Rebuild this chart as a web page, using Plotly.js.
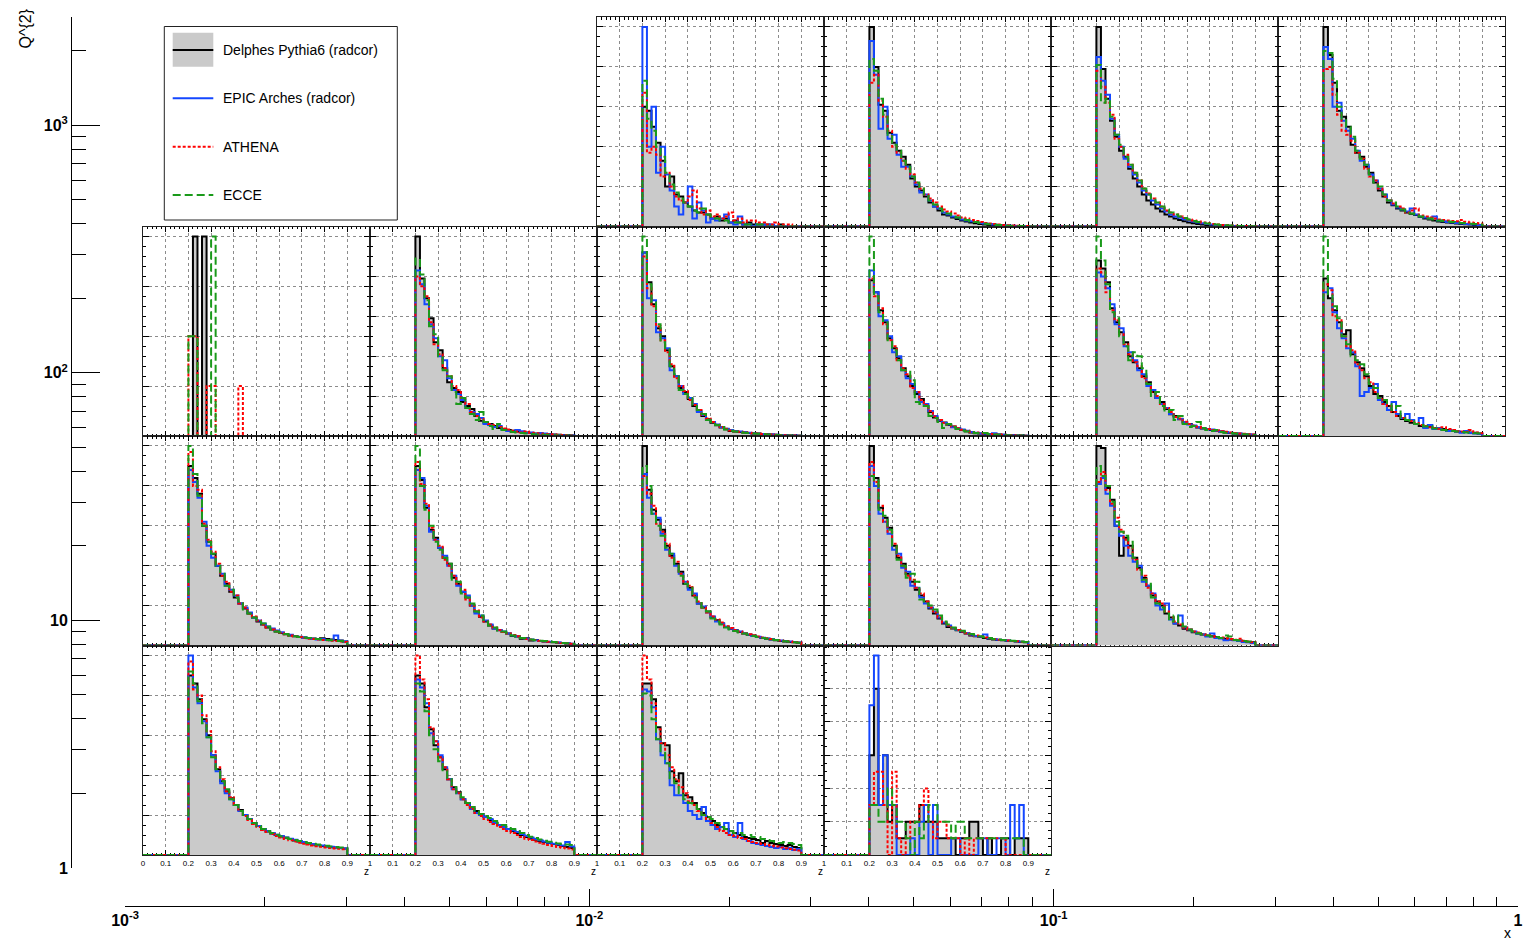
<!DOCTYPE html>
<html><head><meta charset="utf-8">
<script src="https://cdn.plot.ly/plotly-3.0.1.min.js"></script>
<style>html,body{margin:0;padding:0;background:#fff}#chart{width:1525px;height:941px}</style>
</head><body><div id="chart"></div>
<script>
// ---------------- DATA ----------------
// z histogram binning: 50 bins of 0.02 over [0,1]; the values below fill the bins starting at z = 0.20
const zBinWidth = 0.02;
const zFirstBinLow = 0.20;
const zNBins = 50;

// outer axes
const outerXTicks = [0.001, 0.01, 0.1, 1];
const outerXTickText = ['10<sup>-3</sup>', '10<sup>-2</sup>', '10<sup>-1</sup>', '1'];
const outerYTicks = [1, 10, 100, 1000];
const outerYTickText = ['1', '10', '10<sup>2</sup>', '10<sup>3</sup>'];
const seriesNames = ['Delphes Pythia6 (radcor)', 'EPIC Arches (radcor)', 'ATHENA', 'ECCE'];

// ---- Row 1 (highest Q2) ----
const r1c3_delphes = [60,58,50,42,33,20,25,16,15,12,10,8,7,7,6,4,5,3,4,2,3,2,1,2,1,1,1,1,0,0,1,0,0,0,0];
const r1c3_epic    = [100,40,60,27,40,26,18,10,6,12,20,4,12,8,2,4,3,4,6,2,1,5,1,1,0,1,1,0,1,0,0,0,0,0,0];
const r1c3_athena  = [67,37,40,36,25,27,20,15,13,12,15,18,9,6,8,5,6,4,5,7,3,4,2,3,3,2,2,1,1,2,1,1,1,0,0];
const r1c3_ecce    = [73,54,48,40,35,27,21,17,14,12,10,8,7,9,6,5,4,3,3,2,2,2,1,1,1,1,1,0,0,0,0,0,0,0,0];

const r1c4_delphes = [100,80,61,58,47,42,38,35,31,24,20,18,15,12,10,8,6,5.5,4.5,3.8,3,2.5,2,1.6,1.3,1,0.8,0.6,0.5,0.4,0.3,0.2,0.2,0.1,0];
const r1c4_epic    = [93,76,49,60,44,46,36,30,30,25,21,17,16,13,10,9,7,6,5,4.5,3.5,3,2.6,2.2,1.8,1.5,1.2,1,0.8,0.6,0.5,0.4,0.3,0.2,0.1];
const r1c4_athena  = [72,76,63,55,48,40,37,33,29,26,22,19,16,14,12,10,8.5,7.5,6.5,5.5,4.5,4,3.2,2.8,2.3,1.8,1.5,1.2,1,0.8,0.6,0.5,0.4,0.3,0.2];
const r1c4_ecce    = [84,78,64,56,46,41,38,33,30,25,22,19,16,13,11,9,7.5,6.5,5.5,4.5,3.8,3.2,2.6,2.2,1.8,1.4,1.1,0.9,0.7,0.5,0.4,0.3,0.2,0.2,0.1];

const r1c5_delphes = [100,79,64,53,45,38,35,29,24,20,16,13,11,9,7.5,6,5,4,3.3,2.6,2,1.6,1.2,1,0.8,0.6,0.5,0.4,0.3,0.2,0.1,0.1,0,0,0];
const r1c5_epic    = [85,73,66,54,46,40,34,30,26,22,18,16,13,11,9,7.5,6,5,4.4,3.6,3,2.5,2,1.6,1.3,1,0.8,0.6,0.5,0.4,0.3,0.2,0.1,0.1,0];
const r1c5_athena  = [78,70,62,56,44,40,36,31,27,23,19,16.5,14,12,10,8,7,6,5,4.2,3.5,3,2.5,2,1.6,1.3,1,0.8,0.6,0.5,0.4,0.3,0.2,0.1,0.1];
const r1c5_ecce    = [81,62,64,55,46,41,35,31,27,23,19,16,14,12,10,8.5,7,6,5,4.2,3.5,2.8,2.3,1.9,1.5,1.2,1,0.8,0.6,0.5,0.4,0.3,0.2,0.1,0.1];

const r1c6_delphes = [100,86,72,58,55,50,41,37,35,30,27,22,18,15,12,10.6,9,8,7,6.4,5.8,4.7,4,3.5,3,2.5,2.2,2,1.8,1.5,1.3,1.1,1,0.8,0.7];
const r1c6_epic    = [90,84,60,62,53,48,44,38,33,31,26,23,19,16,13,11,9.5,8.5,7.5,9,6,5,4.5,4,5,3,2.6,2.3,2,1.8,1.5,1.3,1.1,1,0.8];
const r1c6_athena  = [79,80,66,56,48,46,43,37,34,29,25,23,19,15,13,11.5,10,9,7,8,9,5.5,5,4.5,4,3.5,3.2,3,2.8,2.6,3.2,2.4,2,1.8,1.5];
const r1c6_ecce    = [88,87,74,60,54,50,45,38,34,31,26,22,20,16,13,12,10,8.5,7.5,6.5,5.6,5,4.6,4,3.5,3,2.7,2.5,2.2,2,1.8,1.6,1.4,1.2,1];

// ---- Row 2 ----
const r2c1_delphes = [0,4,0,4,0,0,0,0,0,0,0,0,0,0,0,0,0,0,0,0,0,0,0,0,0,0,0,0,0,0,0,0,0,0,0];
const r2c1_epic    = [0,0,0,0,0,0,0,0,0,0,0,0,0,0,0,0,0,0,0,0,0,0,0,0,0,0,0,0,0,0,0,0,0,0,0];
const r2c1_athena  = [2,2,0,0,1,1,0,0,0,0,0,1,0,0,0,0,0,0,0,0,0,0,0,0,0,0,0,0,0,0,0,0,0,0,0];
const r2c1_ecce    = [2,2,0,0,0,4,0,0,0,0,0,0,0,0,0,0,0,0,0,0,0,0,0,0,0,0,0,0,0,0,0,0,0,0,0];

const r2c2_delphes = [100,79,69,59,47,43,34,27,24,22,17,15,13.5,10,7.6,6.7,6,5,4,3.4,3,2.6,2.2,2,1.8,1.5,1.3,1.2,1,0.9,0.8,0.6,0.5,0.4,0.3];
const r2c2_epic    = [83,76,66,56,49,40,38,29,23,21,18,14,12,11,9,6,5.5,4.5,5,3,2.5,2,3,2.4,1.5,1.8,1,1.5,1.2,0.8,0.6,0.5,0.4,0.3,0.2];
const r2c2_athena  = [80,75,70,57,46,41,34,30,25,23,19,16,12,10,8.5,7,6,5.5,4.5,3.8,3.2,2.6,2.2,1.8,2.2,1.6,1.4,1.2,1,0.9,0.8,0.6,0.5,0.4,0.3];
const r2c2_ecce    = [89,81,68,55,51,40,33,30,22,16,19,14,11,8,12,7,5,3.5,6,3,2.5,2,1.8,1.5,1.3,1,0.8,0.7,0.6,0.5,0.4,0.3,0.3,0.2,0.1];

const r2c3_delphes = [92,77,66,54,50,43,35,30,24,22,18.5,15,12.6,10,8.4,6.7,5.4,4.2,3.4,2.5,2.2,2,1.8,1.5,1.3,1.2,1,0.9,0.7,0.6,0.5,0.4,0.3,0.2,0.1];
const r2c3_epic    = [92,69,68,52,49,44,33,30,25,21,19,16,12,10.5,8,7,5.8,4.5,3.6,3,2.5,2.2,2,1.6,1.4,1.1,1,0.8,0.7,0.6,0.5,0.4,0.3,0.2,0.1];
const r2c3_athena  = [90,74,65,55,48,42,36,29,25,22.5,18,15.5,13,10.5,8.8,7,5.6,4.5,3.6,2.8,2.4,2.1,1.9,1.6,1.4,1.2,1,0.9,0.8,0.6,0.5,0.4,0.3,0.2,0.1];
const r2c3_ecce    = [100,76,67,56,47,44,35,31,23,21,19,15,13,11,8,7,5.5,4.5,3.2,2.6,2.3,2,1.6,1.5,1.2,1.1,1,0.8,0.6,0.5,0.4,0.3,0.2,0.1,0.1];

const r2c4_delphes = [78,72,63,57,49,44,39,34,30,25,21,18.5,15,12,9.3,7.6,6.8,5.5,4.7,3.7,3,2.4,1.7,1.4,1.2,1,0.9,0.8,0.7,0.6,0.5,0.4,0.3,0.2,0.1];
const r2c4_epic    = [83,72,60,58,50,42,40,33,29,26,22,17,16,12.5,10,8,6.5,5.8,4.4,3.8,3.2,2.6,2,1.6,1.3,1.1,0.9,1.4,0.7,0.6,0.5,0.4,0.3,0.2,0.1];
const r2c4_athena  = [79,70,64,56,48,45,38,34,31,24,22,18,15.5,12.5,9.8,8,6.5,5.6,4.8,3.9,3.1,2.6,2,1.7,1.4,1.2,1,0.9,0.7,0.6,0.5,0.4,0.3,0.2,0.1];
const r2c4_ecce    = [100,70,62,57,48,43,38,33,33,28,17,16,15,10,9,7,4,6,4.5,3.5,2.8,2.2,2,1.5,1.2,1.5,1,0.7,0.6,0.5,0.4,0.3,0.2,0.2,0.1];

const r2c5_delphes = [88,84,77,64,57,52,47,40,37,34,30,27,22,19,17,13.5,10.9,10,8.4,6.7,6,5,4.2,3.7,3.4,3,2.6,2.2,1.8,1.5,1.3,1.1,1,0.8,0.6];
const r2c5_epic    = [82,80,74,66,56,54,45,42,38,33,31,25,23,19,16,14,11,9.5,8.5,7,5.8,5.2,4.4,3.9,3.4,3.2,2.6,2.4,2,1.6,1.4,1.2,1,0.8,0.6];
const r2c5_athena  = [84,82,72,63,58,51,46,41,37,35,29,26,22,20,16,14,12,9.5,8.8,7.2,6,5.3,4.6,4,3.5,3,2.7,2.4,2.1,1.8,1.5,1.3,1.1,0.9,0.7];
const r2c5_ecce    = [100,88,76,62,59,50,45,38,42,40,34,26,20,22,15,12,13,8,10,6,4.5,5,7,4,3,2.5,3,2,1.6,1.5,1.2,1,0.9,0.7,0.5];

const r2c6_delphes = [79,69,63,57,51,53,41,37,34,30,25,21,20,17,15,12,10,8.5,7.5,6.7,6,5,4.5,4.5,4,3.8,3.5,3,2.6,2.2,2,2.2,1.8,1.6,1.2];
const r2c6_epic    = [72,74,62,54,49,44,42,35,20,22,24,26,18,16,13,17,11,9,11,8,6,9,4,5.5,3.5,4,3,2.5,2.8,2.2,1.6,2.5,1.5,1.3,1];
const r2c6_athena  = [76,73,60,58,50,45,43,36,33,29,27,22,19,16,15,12,10,9,8,7.5,6.5,5.5,5,4.4,4,3.6,4.4,3.5,3,2.4,2.2,2,3,1.8,1.4];
const r2c6_ecce    = [100,71,65,59,50,46,40,38,36,31,26,24,19,18,16,13,15,9,8,7.5,6,5.5,4.8,5,3.8,3.2,3,2.8,2.5,2.2,2,1.8,1.6,1.4,1.2];

// ---- Row 3 ----
const r3c1_delphes = [90,84,76,60,52,46,40,35,31,27,24,21,18.5,16,14,12,10.5,9,8,7,6.3,5.6,5,4.6,4.2,4,3.8,3.5,3.3,3.6,3.2,3,2.8,2.5,2];
const r3c1_epic    = [88,82,74,62,50,44,40,36,30,28,25,21,19,16.5,14,12.5,11,9.5,8.5,7.5,6.6,5.8,5.4,4.8,4.4,4,3.6,3.4,3,3.2,2.8,2.6,5,2.4,2];
const r3c1_athena  = [97,80,78,61,53,47,41,35,32,27,25,21,19,16,14.5,12.5,10.5,9,8,7.2,6.4,5.6,5,4.6,4.2,3.8,3.4,3.2,3,2.8,2.6,2.4,2.2,2,1.8];
const r3c1_ecce    = [100,86,75,60,52,46,40,36,30,28,24,22,18,16,14,12,11,9.5,8,7,6.5,5.8,5,4.6,4.2,4,3.7,3.4,3.2,3,2.8,2.6,2.4,2.2,2];

const r3c2_delphes = [90,83,69,58,54,49,44,41,34,31,27,24,20,17,14.4,12,10,8.5,7.6,6.8,6,4.7,4.5,3.4,3.6,2.5,2.7,2.3,2,1.8,1.6,1.4,1.2,1,0.8];
const r3c2_epic    = [88,84,70,57,53,49,45,40,35,30,27,25,20,16,15,12.5,10.5,8.5,7.8,7,6,5,4.6,3.8,3.4,3,2.6,2.3,2.1,1.9,1.7,1.5,1.3,1.1,0.9];
const r3c2_athena  = [92,81,71,59,53,50,43,40,35,31,28,23,20,17.5,14,12,10.5,9,7.8,6.8,6,5.2,4.6,3.8,3.3,3,2.7,2.4,2.1,1.9,1.7,1.5,1.3,1.1,0.9];
const r3c2_ecce    = [100,80,68,60,52,48,44,41,33,32,26,24,21,17,15,12,10,9,7.5,7,6.2,5,4.4,3.7,3.6,3,2.6,2.4,2.2,2,1.7,1.5,1.3,1.1,0.9];

const r3c3_delphes = [100,78,68,63,58,50,45,41,37,31,29,25,21,19,17,14,12.6,11,9.3,8.4,7.6,6.8,6,5.4,5,4.2,3.8,3.4,3,2.6,2.3,2,1.8,1.6,1.4];
const r3c3_epic    = [86,74,66,64,56,48,46,40,36,32,28,26,21,19.5,16.5,14.5,12,11,9.5,8.5,7.5,7,6.2,5.5,4.8,4.4,3.9,3.5,3.1,2.8,2.5,2.2,2,1.8,1.5];
const r3c3_athena  = [85,76,70,61,57,51,44,42,36,32,30,25,22,19,16.5,14.5,13,11.5,9.6,8.8,7.8,7,6,5.6,5,4.5,4,3.6,3.2,2.8,2.5,2.2,2,1.7,1.5];
const r3c3_ecce    = [90,80,66,60,55,49,46,40,35,31,29,24,22,19,17,13.5,12,10.5,9,8,7.3,6.5,6,5.4,4.8,4.3,3.8,3.4,3,2.7,2.4,2.1,1.9,1.6,1.4];

const r3c4_delphes = [100,84,69,64,59,50,44,41,36,32,28,25,22,18.5,16,13.5,11,9.3,8.5,7.6,6.8,6,5,4.6,4.2,3.8,3.4,3,2.8,2.6,2.4,2.2,2,1.8,1.6];
const r3c4_epic    = [90,80,66,62,56,48,46,39,37,30,29,24,21,19,17,14,11.5,10,8.8,7.8,7,6.2,5.4,4.8,4.4,5.5,3.6,3.2,2.9,2.7,2.5,2.3,2.1,1.9,1.7];
const r3c4_athena  = [92,82,70,62,57,51,45,40,35,33,29,26,22,19,16.5,14,11.5,10,8.8,7.8,7,6.2,5.5,5,4.5,4,3.6,3.2,2.9,2.7,2.5,2.3,2.1,1.9,1.7];
const r3c4_ecce    = [85,83,68,65,58,50,43,40,34,36,32,23,21,20,18,15,12,10.5,9,8,7.4,6.5,5.8,5.2,4.6,4.1,3.7,3.3,3,2.8,2.6,2.4,2.2,2,1.8];

const r3c5_delphes = [100,99,79,73,60,45,54,50,44,39,34,30,25,22,20,16,14,11,10,8.4,7.6,6.7,6,5.5,5,4.6,4.2,3.8,3.4,3,2.8,2.5,2.2,1.9,1.6];
const r3c5_epic    = [81,84,76,70,60,55,50,45,42,40,32,30,26,20,18,21,13,11,15,9,8,7,6,5.5,4.5,6,3.8,3.5,2.6,3,2.6,2.2,1.8,1.6,1.2];
const r3c5_athena  = [82,87,78,71,64,58,53,49,43,38,35,29,26,22,21,17,14,12,10.5,9,8,7,6.5,5.7,5.2,4.8,4.3,4,3.6,3.2,2.9,3.4,2.4,2,1.6];
const r3c5_ecce    = [90,85,80,72,62,57,55,52,44,38,33,31,24,21,19,16,12,15,11,9.5,8,7,6.2,5.5,5,4.5,4.2,3.8,5,4.5,2.8,2.5,2.2,1.9,1.5];

// ---- Row 4 (lowest Q2) ----
const r4c1_delphes = [90,86,78,68,60,50,43,37,32,28.5,25,22.5,20,18,16,14.5,13,11.8,10.8,10,9.3,8.6,8,7.3,6.8,6.3,5.8,5.3,4.9,4.5,4.2,3.9,3.7,3.5,3.3];
const r4c1_epic    = [100,84,76,67,59,50,42,36,31,28,25,22,20,18,16,14.5,13,12,11,10.2,9.5,8.8,8.2,7.6,7,6.5,6,5.5,5,4.7,4.4,4.1,3.8,3.5,3.2];
const r4c1_athena  = [97,83,80,70,62,52,44,38,32,29,25,22,19.5,17.5,15.5,14,12.5,11.5,10.5,9.5,8.8,8,7.4,6.8,6.2,5.7,5.2,4.8,4.4,4.1,3.8,3.5,3.3,3.1,2.9];
const r4c1_ecce    = [92,86,77,66,59,49,43,37,33,28,25,22,19.5,18,16,14.5,13,12,11,10.2,9.4,8.6,8,7.5,7,6.5,6,5.6,5.2,4.9,4.6,4.3,4,3.8,3.6];

const r4c2_delphes = [90,86,74,63,55,49,43,38,34,31.5,28,26,24,22,20.5,19,17.5,16.5,15,14,13,12,11,10,9,8.3,7.6,7,6.5,6,5.5,5,4.5,4,3.5];
const r4c2_epic    = [88,84,76,61,57,50,44,38,33,31,28,26,23,21,20,19,18,16,15,14,13,12.4,11.5,10.5,9.5,8.8,8,7.4,6.8,6.2,5.6,5.2,4.8,6.5,4.2];
const r4c2_athena  = [100,88,78,64,57,49,44,38,33,31,28,25,23,21,19.5,18,16.5,15.5,14,13,12,11,10,9,8.2,7.5,6.8,6.2,5.6,5,4.5,4,3.6,3.2,2.8];
const r4c2_ecce    = [86,82,72,60,53,47,42,38,34,31,29,26,24,22,20.5,19.5,18.5,17,16,15,14,13,12,11,10,9.2,8.5,7.8,7.2,6.6,6.2,5.8,5.5,5.2,5];

const r4c3_delphes = [86,86,78,64,56,55,42,37,41,30,29,26,23,21,19,17,15,14,13,12,11,10,9,8.5,8,7.5,6,7,6,5.5,5,4.5,5,4,3.5];
const r4c3_epic    = [83,82,74,58,50,46,35,30,30,26,22,20,18,24,17,15,13,14,16,10,9,16,8,7,6,5.5,5,4.5,4,3.5,4,3,3.5,2.5,3];
const r4c3_athena  = [100,88,76,63,56,50,44,38,34,31,27,25,22,20,18,16,14,12,11,10,9.5,8.5,8,7,6.5,6,5.5,5,4.6,4.2,3.8,3.4,3,2.6,2.2];
const r4c3_ecce    = [81,80,68,58,52,46,38,36,31,28,26,25,23,20,19,18,16,14,13,12,11,11,10,10,9,9,8,7.5,7,6.5,6,6.5,6,5.5,5];

const r4c4_delphes = [6,10,3,6,2,3,1,1,2,2,2,3,2,2,2,1,1,1,1,0,1,1,2,2,1,0,1,0,0,1,1,0,1,1,1];
const r4c4_epic    = [9,12,3,6,3,3,0,0,0,1,0,2,3,0,3,0,0,0,1,1,0,0,0,0,1,1,0,0,1,1,0,3,1,3,0];
const r4c4_athena  = [3,5,5,3,0,5,1,0,1,2,2,3,4,2,1,2,2,1,1,1,0,1,0,1,1,1,1,1,1,1,0,0,0,0,0];
const r4c4_ecce    = [3,3,2,2,4,3,2,2,1,0,2,1,2,3,3,2,2,2,1,2,2,1,1,1,1,1,1,1,1,1,1,1,1,1,0];

// ---------------- LAYOUT HELPERS ----------------
const W = 1525, H = 941;
const PX = v => v / W;
const PY = v => 1 - v / H;
const FONT = 'Liberation Sans, Arial, Helvetica, sans-serif';

const panels = [
  {row:1, col:3, d:r1c3_delphes, e:r1c3_epic, a:r1c3_athena, c:r1c3_ecce},
  {row:1, col:4, d:r1c4_delphes, e:r1c4_epic, a:r1c4_athena, c:r1c4_ecce},
  {row:1, col:5, d:r1c5_delphes, e:r1c5_epic, a:r1c5_athena, c:r1c5_ecce},
  {row:1, col:6, d:r1c6_delphes, e:r1c6_epic, a:r1c6_athena, c:r1c6_ecce},
  {row:2, col:1, d:r2c1_delphes, e:r2c1_epic, a:r2c1_athena, c:r2c1_ecce},
  {row:2, col:2, d:r2c2_delphes, e:r2c2_epic, a:r2c2_athena, c:r2c2_ecce},
  {row:2, col:3, d:r2c3_delphes, e:r2c3_epic, a:r2c3_athena, c:r2c3_ecce},
  {row:2, col:4, d:r2c4_delphes, e:r2c4_epic, a:r2c4_athena, c:r2c4_ecce},
  {row:2, col:5, d:r2c5_delphes, e:r2c5_epic, a:r2c5_athena, c:r2c5_ecce},
  {row:2, col:6, d:r2c6_delphes, e:r2c6_epic, a:r2c6_athena, c:r2c6_ecce},
  {row:3, col:1, d:r3c1_delphes, e:r3c1_epic, a:r3c1_athena, c:r3c1_ecce},
  {row:3, col:2, d:r3c2_delphes, e:r3c2_epic, a:r3c2_athena, c:r3c2_ecce},
  {row:3, col:3, d:r3c3_delphes, e:r3c3_epic, a:r3c3_athena, c:r3c3_ecce},
  {row:3, col:4, d:r3c4_delphes, e:r3c4_epic, a:r3c4_athena, c:r3c4_ecce},
  {row:3, col:5, d:r3c5_delphes, e:r3c5_epic, a:r3c5_athena, c:r3c5_ecce},
  {row:4, col:1, d:r4c1_delphes, e:r4c1_epic, a:r4c1_athena, c:r4c1_ecce},
  {row:4, col:2, d:r4c2_delphes, e:r4c2_epic, a:r4c2_athena, c:r4c2_ecce},
  {row:4, col:3, d:r4c3_delphes, e:r4c3_epic, a:r4c3_athena, c:r4c3_ecce},
  {row:4, col:4, d:r4c4_delphes, e:r4c4_epic, a:r4c4_athena, c:r4c4_ecce}
];

const styles = [
  {key:'d', color:'#000000', dash:'solid',   fill:true},
  {key:'e', color:'#1447ff', dash:'solid',   fill:false},
  {key:'a', color:'#ff0000', dash:'3px,2px', fill:false},
  {key:'c', color:'#1a9a1a', dash:'8px,4px', fill:false}
];

const PANEL_X0 = 143, PANEL_W = 227, PANEL_Y0 = 17, PANEL_H = 209.5;

const edges = Array.from({length: zNBins + 1}, (_, j) => +(j * zBinWidth).toFixed(4));
const firstIdx = Math.round(zFirstBinLow / zBinWidth);
function stepY(vals) {
  const full = new Array(zNBins).fill(0);
  vals.forEach((v, i) => { full[firstIdx + i] = v; });
  return full.concat([full[zNBins - 1]]);
}

const traces = [];
const layout = {
  width: W, height: H, autosize: false,
  margin: {l:0, r:0, t:0, b:0, pad:0},
  paper_bgcolor: '#ffffff', plot_bgcolor: 'rgba(0,0,0,0)',
  showlegend: false,
  font: {family: FONT, color: '#000'},
  shapes: [], annotations: []
};

// outer Q2 vs x axes
traces.push({type:'scatter', mode:'lines', x:[], y:[], xaxis:'x', yaxis:'y', showlegend:false, hoverinfo:'skip'});
const xMinor = [], yMinor = [];
[0.001, 0.01, 0.1].forEach(b => { for (let m = 2; m <= 9; m++) xMinor.push(+(b * m).toPrecision(3)); });
[1, 10, 100, 1000].forEach(b => { for (let m = 2; m <= 9; m++) if (b * m < 2740) yMinor.push(b * m); });
layout.xaxis = {
  type:'log', domain:[PX(125), PX(1518)], range:[-3, 0], anchor:'free', position: PY(906),
  showline:true, linecolor:'#000', linewidth:1, showgrid:false, zeroline:false,
  ticks:'inside', ticklen:17, tickcolor:'#000', tickwidth:1,
  tickmode:'array', tickvals: outerXTicks, ticktext: outerXTickText.map(t => '<b>' + t + '</b>'),
  tickfont:{size:16, family:FONT, color:'#000'},
  minor:{ticks:'inside', ticklen:9, tickcolor:'#000', tickwidth:1, tickmode:'array', tickvals:xMinor, showgrid:false},
  fixedrange:true
};
layout.yaxis = {
  type:'log', domain:[PY(868), PY(17)], range:[0, 3 + (125 - 17) / 247.5], anchor:'free', position: PX(71),
  showline:true, linecolor:'#000', linewidth:1, showgrid:false, zeroline:false,
  ticks:'inside', ticklen:28, tickcolor:'#000', tickwidth:1,
  tickmode:'array', tickvals: outerYTicks, ticktext: outerYTickText.map(t => '<b>' + t + '</b>'),
  tickfont:{size:16, family:FONT, color:'#000'},
  minor:{ticks:'inside', ticklen:14, tickcolor:'#000', tickwidth:1, tickmode:'array', tickvals:yMinor, showgrid:false},
  fixedrange:true
};

panels.forEach((p, i) => {
  const k = i + 2;
  const xa = 'x' + k, ya = 'y' + k;
  const left = PANEL_X0 + PANEL_W * (p.col - 1);
  const top = PANEL_Y0 + PANEL_H * (p.row - 1);
  let ymax = 0;
  styles.forEach(s => { ymax = Math.max(ymax, ...p[s.key]); });
  styles.forEach(s => {
    traces.push({
      type:'scatter', mode:'lines', x: edges, y: stepY(p[s.key]),
      xaxis: xa, yaxis: ya, showlegend:false, hoverinfo:'skip',
      line:{color:s.color, width:2, dash:s.dash, shape:'hv'},
      fill: s.fill ? 'tozeroy' : 'none', fillcolor:'#cacaca'
    });
  });
  const bottom = p.row === 4;
  // tick marks at 0.1 steps; on the bottom row the label at a shared pad edge is shown once
  let tv = Array.from({length: 11}, (_, j) => +(j * 0.1).toFixed(1));
  if (bottom && p.col > 1) tv = tv.filter(v => v !== 0);
  if (bottom && p.col === 4) tv = tv.filter(v => v !== 1);
  layout['xaxis' + k] = {
    domain:[PX(left), PX(left + PANEL_W)], anchor: ya, range:[0, 1],
    showline:true, linecolor:'#222', linewidth:1, mirror:'allticks', layer:'below traces',
    showgrid:true, gridcolor:'#8c8c8c', griddash:'dot', gridwidth:1, zeroline:false,
    tickmode:'array', tickvals: tv, ticktext: tv.map(v => String(v)),
    ticks:'inside', ticklen:5, tickcolor:'#000', tickwidth:1,
    minor:{ticks:'inside', ticklen:2.5, dtick:0.02, tick0:0, tickcolor:'#000', showgrid:false},
    showticklabels: bottom, tickfont:{size:8, family:FONT, color:'#000'},
    fixedrange:true
  };
  layout['yaxis' + k] = {
    domain:[PY(top + PANEL_H), PY(top)], anchor: xa, range:[0, ymax * 1.05],
    showline:true, linecolor:'#222', linewidth:1, mirror:'allticks', layer:'below traces',
    showgrid:true, gridcolor:'#8c8c8c', griddash:'dot', gridwidth:1, zeroline:false,
    nticks:7, ticks:'inside', ticklen:6, tickcolor:'#000', tickwidth:1,
    minor:{ticks:'inside', ticklen:3, nticks:5, tickcolor:'#000', showgrid:false},
    showticklabels:false, fixedrange:true
  };
  if (bottom) {
    layout.annotations.push({xref:'paper', yref:'paper', x:PX(left + PANEL_W - 3.5), y:PY(871),
      text:'z', showarrow:false, xanchor:'center', yanchor:'middle', font:{size:10, family:FONT, color:'#000'}});
  }
});

// axis titles of the outer frame
layout.annotations.push({xref:'paper', yref:'paper', x:PX(25), y:PY(28.5), text:'Q^{2}', textangle:-90,
  showarrow:false, xanchor:'center', yanchor:'middle', font:{size:16, family:FONT, color:'#000'}});
layout.annotations.push({xref:'paper', yref:'paper', x:PX(1507), y:PY(933), text:'x',
  showarrow:false, xanchor:'center', yanchor:'middle', font:{size:14, family:FONT, color:'#000'}});

// legend box (ROOT TLegend look)
layout.shapes.push({type:'rect', xref:'paper', yref:'paper', x0:PX(164.3), x1:PX(397.3), y0:PY(220), y1:PY(26.5),
  line:{color:'#222', width:1}, fillcolor:'#ffffff', layer:'above'});
layout.shapes.push({type:'rect', xref:'paper', yref:'paper', x0:PX(172.7), x1:PX(213.3), y0:PY(66.7), y1:PY(32.7),
  line:{width:0}, fillcolor:'#cacaca', layer:'above'});
const legendRows = [50, 98.3, 146.7, 195];
styles.forEach((s, i) => {
  layout.shapes.push({type:'line', xref:'paper', yref:'paper', x0:PX(172.7), x1:PX(213.3), y0:PY(legendRows[i]), y1:PY(legendRows[i]),
    line:{color:s.color, width:2, dash:s.dash}, layer:'above'});
  layout.annotations.push({xref:'paper', yref:'paper', x:PX(221), y:PY(legendRows[i]), text:seriesNames[i],
    showarrow:false, xanchor:'left', yanchor:'middle', font:{size:14, family:FONT, color:'#000'}});
});

Plotly.newPlot('chart', traces, layout, {displayModeBar:false, staticPlot:true});
</script>
</body></html>
